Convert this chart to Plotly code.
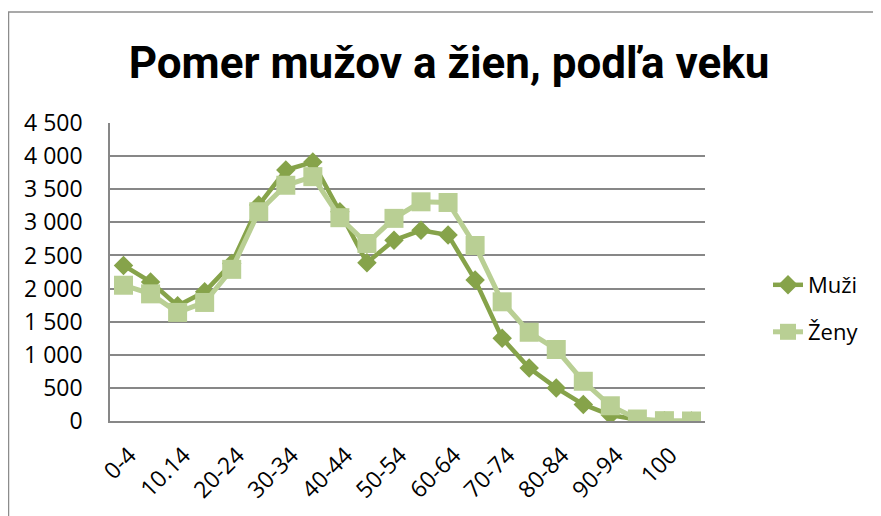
import plotly.graph_objects as go

categories = ["0-4", "5-9", "10.14", "15-19", "20-24", "25-29", "30-34", "35-39",
              "40-44", "45-49", "50-54", "55-59", "60-64", "65-69", "70-74", "75-79",
              "80-84", "85-89", "90-94", "95-99", "100", "nezistený"]
muzi = [2350, 2100, 1740, 1950, 2380, 3260, 3790, 3910, 3160, 2390, 2730, 2880,
        2810, 2130, 1250, 800, 500, 250, 90, 20, 5, 0]
zeny = [2050, 1920, 1640, 1790, 2290, 3160, 3560, 3690, 3070, 2680, 3060, 3310,
        3300, 2650, 1800, 1340, 1080, 600, 230, 30, 5, 0]
y_ticks = [0, 500, 1000, 1500, 2000, 2500, 3000, 3500, 4000, 4500]
y_tick_text = ["0", "500", "1 000", "1 500", "2 000", "2 500", "3 000", "3 500", "4 000", "4 500"]
x_tick_vals = categories[0:21:2]

OFF = 8  # page body margin
W, H = 881 - OFF, 516 - OFF
L, R, T, B = 110 - OFF, 705 - OFF, 123 - OFF, 421 - OFF

def px_x(p):
    return (p - OFF - L) / (R - L)

def px_y(p):
    return (B - (p - OFF)) / (B - T)

GRID = "#878787"
TXT_FONT = "Open Sans, Lato, sans-serif"

fig = go.Figure()
fig.add_trace(go.Scatter(
    x=categories, y=muzi, name="Muži", mode="lines+markers",
    line=dict(color="#86A34A", width=4.5),
    marker=dict(symbol="diamond", size=15, color="#86A34A"),
    legend="legend", showlegend=True,
))
fig.add_trace(go.Scatter(
    x=categories, y=zeny, name="Ženy", mode="lines+markers",
    line=dict(color="#B9CF94", width=5),
    marker=dict(symbol="square", size=19, color="#B9CF94"),
    legend="legend2", showlegend=True,
))

fig.update_layout(
    width=W, height=H, showlegend=True,
    margin=dict(l=L, r=W - R, t=T, b=H - B, pad=0),
    paper_bgcolor="white", plot_bgcolor="white",
    title=dict(
        text="<b>Pomer mužov a žien, podľa veku</b>",
        font=dict(family="Roboto, sans-serif", size=44, color="black"),
        x=(449 - OFF) / W, xanchor="center", xref="container",
        y=1 - (63 - OFF) / H, yanchor="middle", yref="container",
    ),
    xaxis=dict(
        type="category", range=[-0.5, 21.5],
        tickmode="array", tickvals=x_tick_vals, ticktext=x_tick_vals,
        tickangle=-45, tickfont=dict(family=TXT_FONT, size=23, color="black"),
        showline=True, linecolor=GRID, linewidth=1.5,
        showgrid=False, ticks="", zeroline=False,
        ticklabelstandoff=10, ticklabelshift=6,
    ),
    yaxis=dict(
        range=[0, 4500], tickmode="array", tickvals=y_ticks, ticktext=y_tick_text,
        tickfont=dict(family=TXT_FONT, size=23, color="black"),
        showline=True, linecolor=GRID, linewidth=1.5,
        showgrid=True, gridcolor=GRID, gridwidth=1.5,
        ticks="", zeroline=False, ticklabelstandoff=21,
    ),
    legend=dict(
        x=px_x(768), xanchor="left", y=px_y(285), yanchor="middle",
        font=dict(family=TXT_FONT, size=22, color="black"),
        bgcolor="rgba(0,0,0,0)",
    ),
    legend2=dict(
        x=px_x(768), xanchor="left", y=px_y(332), yanchor="middle",
        font=dict(family=TXT_FONT, size=22, color="black"),
        bgcolor="rgba(0,0,0,0)",
    ),
    shapes=[
        dict(type="line", xref="paper", yref="paper",
             x0=px_x(8.5), x1=px_x(8.5), y0=px_y(530), y1=px_y(12),
             line=dict(color="#8c8c8c", width=1.5)),
        dict(type="line", xref="paper", yref="paper",
             x0=px_x(8), x1=px_x(900), y0=px_y(12), y1=px_y(12),
             line=dict(color="#8c8c8c", width=1.5)),
    ],
)

fig.write_html("out.html")
